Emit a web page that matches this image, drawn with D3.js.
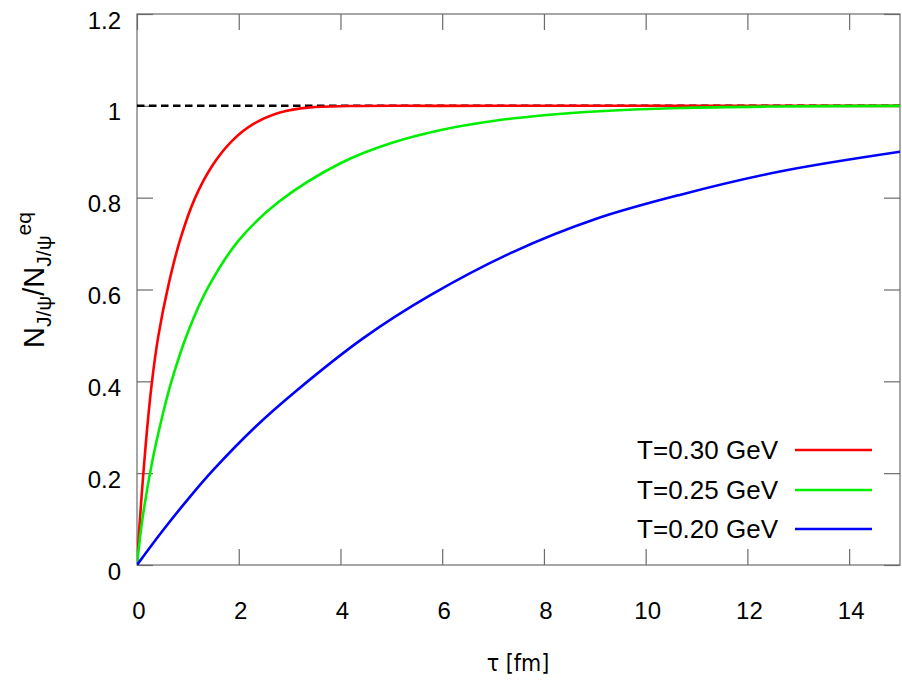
<!DOCTYPE html>
<html>
<head>
<meta charset="utf-8">
<script src="https://cdn.jsdelivr.net/npm/d3@7/dist/d3.min.js"></script>
<style>
  html, body { margin: 0; padding: 0; background: #fff; }
  svg { display: block; }
  text { font-family: "Liberation Sans", Arial, Helvetica, sans-serif; fill: #000; }
</style>
</head>
<body>
<svg id="chart" width="902" height="683"></svg>
<script>
// ---- data ----
const xTicks = [0, 2, 4, 6, 8, 10, 12, 14];
const yTicks = [0, 0.2, 0.4, 0.6, 0.8, 1, 1.2];
const yTickLabels = ["0", "0.2", "0.4", "0.6", "0.8", "1", "1.2"];

const seriesNames = ["T=0.30 GeV", "T=0.25 GeV", "T=0.20 GeV"];
const seriesColors = ["#ff0000", "#00ee00", "#0000ff"];

const tauRed   = [0, 0.05, 0.125, 0.2, 0.29, 0.42, 0.616, 0.85, 1.14, 1.47, 1.86, 2.29, 2.81, 3.4, 4.2, 6, 15];
const valRed   = [0, 0.0875, 0.2, 0.2975, 0.395, 0.499, 0.6085, 0.709, 0.799, 0.868, 0.9226, 0.9605, 0.9855, 0.9967, 0.9995, 1, 1];

const tauGreen = [0, 0.1, 0.29, 0.5, 0.68, 1.0, 1.4, 2.0, 2.8, 4.0, 5.0, 6.0, 7.0, 8.0, 9.0, 10.67, 12.5, 15];
const valGreen = [0, 0.095, 0.22, 0.325, 0.401, 0.507, 0.605, 0.707, 0.792, 0.875, 0.919, 0.948, 0.967, 0.9795, 0.9877, 0.9952, 0.9985, 1];

const tauBlue  = [0, 0.5, 1, 1.5, 2.32, 3.14, 4.45, 5.76, 7.4, 9.03, 10.67, 12.64, 15];
const valBlue  = [0, 0.074, 0.143, 0.207, 0.3, 0.38, 0.494, 0.587, 0.682, 0.754, 0.806, 0.857, 0.9];

const equilibrium = 1;

// ---- layout ----
const svg = d3.select("#chart");
const mL = 137, mR = 900, mT = 14, mB = 565;

const x = d3.scaleLinear().domain([0, 15]).range([mL, mR]);
const y = d3.scaleLinear().domain([0, 1.2]).range([mB, mT]);

const frameColor = "#6b6b6b";
const tickLen = 16;

// frame
svg.append("rect")
  .attr("x", mL).attr("y", mT)
  .attr("width", mR - mL).attr("height", mB - mT)
  .attr("fill", "none").attr("stroke", frameColor).attr("stroke-width", 1.2);

// ticks via d3 axes (inward, mirrored)
function styleAxis(g) {
  g.select(".domain").remove();
  g.selectAll(".tick line").attr("stroke", frameColor).attr("stroke-width", 1.2);
  g.selectAll(".tick text").remove();
}
svg.append("g").attr("transform", `translate(0,${mB})`)
  .call(d3.axisBottom(x).tickValues(xTicks).tickSizeInner(-tickLen).tickSizeOuter(0)).call(styleAxis);
svg.append("g").attr("transform", `translate(0,${mT})`)
  .call(d3.axisTop(x).tickValues(xTicks).tickSizeInner(-tickLen).tickSizeOuter(0)).call(styleAxis);
svg.append("g").attr("transform", `translate(${mL},0)`)
  .call(d3.axisLeft(y).tickValues(yTicks).tickSizeInner(-tickLen).tickSizeOuter(0)).call(styleAxis);
svg.append("g").attr("transform", `translate(${mR},0)`)
  .call(d3.axisRight(y).tickValues(yTicks).tickSizeInner(-tickLen).tickSizeOuter(0)).call(styleAxis);

// tick labels
svg.append("g").selectAll("text").data(xTicks).join("text")
  .attr("x", d => x(d) + 2).attr("y", 619)
  .attr("text-anchor", "middle")
  .attr("font-size", 24)
  .text(d => d);
svg.append("g").selectAll("text").data(yTicks).join("text")
  .attr("x", 121).attr("y", d => y(d) + 14.5)
  .attr("text-anchor", "end")
  .attr("font-size", 24)
  .text((d, i) => yTickLabels[i]);

// axis titles
svg.append("text")
  .attr("x", 518).attr("y", 671)
  .attr("text-anchor", "middle")
  .attr("font-size", 23)
  .style("font-family", "'DejaVu Sans', sans-serif")
  .style("font-stretch", "condensed")
  .text("τ [fm]");

const yl = svg.append("text")
  .attr("transform", "translate(44,280) rotate(-90)")
  .attr("text-anchor", "middle")
  .attr("font-size", 29);
yl.append("tspan").text("N");
yl.append("tspan").attr("font-size", 21).attr("dy", 7).text("J/ψ");
yl.append("tspan").attr("dy", -7).text("/N");
yl.append("tspan").attr("font-size", 21).attr("dy", 7).text("J/ψ");
yl.append("tspan").attr("font-size", 21).attr("dy", -20).text("eq");

// clip for curves
svg.append("clipPath").attr("id", "plotclip")
  .append("rect").attr("x", mL).attr("y", mT).attr("width", mR - mL).attr("height", mB - mT);

const plot = svg.append("g").attr("clip-path", "url(#plotclip)");

// equilibrium dashed line
plot.append("line")
  .attr("x1", x(0)).attr("x2", x(15))
  .attr("y1", y(equilibrium)).attr("y2", y(equilibrium))
  .attr("stroke", "#000").attr("stroke-width", 2.5)
  .attr("stroke-dasharray", "7.5,4.5");

const line = d3.line().x(d => x(d[0])).y(d => y(d[1])).curve(d3.curveCatmullRom.alpha(0.5));
const series = [
  d3.zip(tauRed, valRed),
  d3.zip(tauGreen, valGreen),
  d3.zip(tauBlue, valBlue)
];
series.forEach((s, i) => {
  plot.append("path")
    .attr("d", line(s))
    .attr("fill", "none")
    .attr("stroke", seriesColors[i])
    .attr("stroke-width", 2.6);
});

// legend
const legendY = [450, 490, 529];
seriesNames.forEach((name, i) => {
  svg.append("text")
    .attr("x", 778).attr("y", legendY[i] + 9)
    .attr("text-anchor", "end")
    .attr("font-size", 26)
    .text(name);
  svg.append("line")
    .attr("x1", 795).attr("x2", 872)
    .attr("y1", legendY[i]).attr("y2", legendY[i])
    .attr("stroke", seriesColors[i]).attr("stroke-width", 2.6);
});
</script>
</body>
</html>
